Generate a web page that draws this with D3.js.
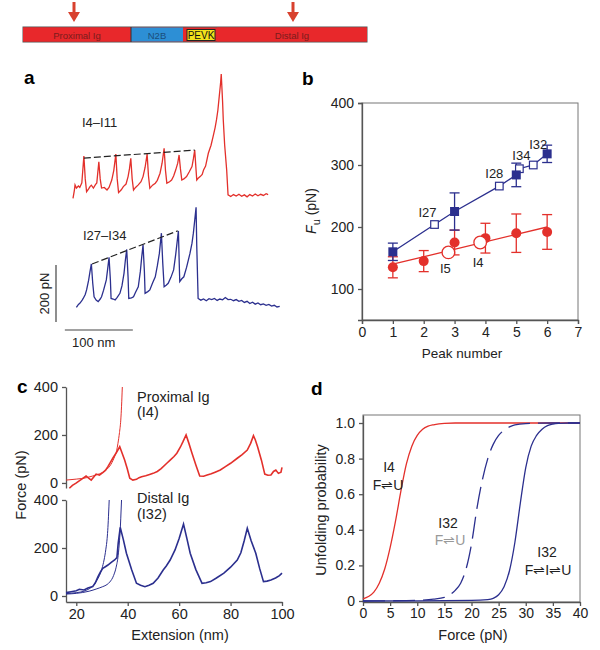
<!DOCTYPE html>
<html>
<head>
<meta charset="utf-8">
<script src="https://cdn.jsdelivr.net/npm/d3@7"></script>
<style>
  body { margin: 0; background: #fff; }
  svg { display: block; font-family: "Liberation Sans", Arial, Helvetica, sans-serif; }
</style>
</head>
<body>
<svg id="fig" width="600" height="650"></svg>
<script>
// ---- titin domain bar ----
const segNames = ["Proximal Ig", "N2B", "PEVK", "Distal Ig"]
const segStart = [0, 108, 164, 194]
const segEnd = [108, 160, 192, 344]
const arrowAt = [51, 270]

// ---- panel a: sawtooth traces (nm, pN) ----
const traceI4 = [[0,-8],[2,20],[3,39],[5,28],[8,35],[10,30],[13,46],[16,140],[18,60],[20,15],[23,25],[25,33],[27,38],[30,28],[33,40],[35,46],[38,120],[40,60],[42,28],[46,30],[50,21],[53,30],[57,56],[60,90],[63,147],[65,60],[67,12],[71,22],[74,33],[78,42],[81,68],[83,95],[85,132],[87,60],[89,21],[92,30],[96,39],[100,50],[103,68],[106,100],[109,147],[111,70],[113,27],[117,38],[121,45],[124,55],[128,80],[131,115],[134,167],[136,90],[138,45],[142,50],[145,56],[148,70],[151,91],[154,115],[156,144],[158,95],[160,56],[163,60],[167,68],[171,85],[175,103],[177,130],[179,161],[181,90],[182,56],[184,62],[187,68],[190,76],[192,91],[195,105],[199,150],[203,178],[206,208],[209,240],[211,267],[213,300],[215,348],[217,395],[218,428],[220,330],[221,267],[223,180],[226,91],[228,4],[232,-2],[236,5],[240,0],[244,6],[248,-1],[252,4],[256,-3],[260,5],[264,0],[268,7],[272,1],[276,6],[280,2],[284,8],[287,5]]
const traceI27 = [[5,-15],[8,-5],[10,-1],[13,8],[15,16],[18,30],[20,46],[23,80],[25,110],[27,137],[29,70],[31,22],[34,10],[37,5],[40,14],[42,22],[45,45],[49,81],[51,120],[53,160],[55,80],[56,16],[59,14],[62,11],[65,20],[69,34],[72,60],[75,104],[77,150],[79,188],[81,90],[82,16],[86,18],[89,22],[92,38],[96,57],[99,110],[101,160],[103,204],[105,110],[106,34],[110,40],[113,46],[117,70],[121,92],[124,130],[127,174],[130,245],[132,140],[134,57],[137,62],[140,69],[144,90],[148,116],[151,170],[155,253],[156,160],[157,75],[160,85],[163,92],[167,125],[172,174],[175,210],[177,245],[179,290],[181,336],[182,200],[184,16],[188,10],[192,14],[196,8],[200,15],[204,12],[208,16],[212,9],[216,14],[220,11],[224,19],[228,12],[232,13],[236,8],[240,12],[244,6],[248,9],[252,2],[256,6],[260,-2],[264,3],[268,-4],[272,0],[276,-6],[280,-3],[284,-8],[288,-5],[292,-11],[296,-8],[300,-14],[304,-12]]
const envI4 = [[16,133],[179,161]]
const envI27 = [[28,137],[154,253]]
const scaleNm = [-12, 88]
const scalePn = [-67, 133]

// ---- panel b: unfolding force vs peak number ----
const peakNum = [1, 2, 3, 4, 5, 6]
const proxFu = [135, 145, 175, 182, 190, 192]
const proxErr = [17, 17, 20, 24, 31, 28]
const proxFitN = [1, 6]
const proxFitFu = [140, 200]
const proxSingleN = [2.8, 3.83]
const proxSingleFu = [159, 175]
const proxSingleName = ["I5", "I4"]
const distPeak = [1, 3, 5, 6]
const distFu = [160, 225, 284, 318]
const distErr = [14, 30, 19, 14]
const distSingleN = [2.35, 4.45, 5.1, 5.55]
const distSingleFu = [204, 266, 294, 300]
const distSingleName = ["I27", "I28", "I34", "I32"]

// ---- panel c: single-domain traces (nm, pN) ----
const traceProx = [[17.3,-22],[18.5,-10],[19.9,-1],[21,8],[22,15],[23.8,29],[24.8,20],[25.8,12],[26.8,25],[27.7,37],[29,33],[30.3,43],[31.3,52],[32.3,68],[33.2,85],[34.2,103],[35.5,125],[36.9,151],[37.8,125],[38.8,96],[39.8,60],[40.8,20],[42,12],[43.4,15],[44.4,22],[45.4,26],[47,30],[48.5,35],[49.9,40],[51.5,48],[53,60],[55.2,82],[56.5,95],[58,110],[59.1,124],[60.5,150],[61.5,172],[62.7,200],[63.8,165],[65,124],[66.5,75],[68,29],[69.5,28],[70.9,33],[72.5,38],[74,45],[76,54],[78,68],[80,82],[82.6,103],[84.5,118],[86.5,137],[87.8,165],[88.9,197],[89.6,180],[90.5,151],[92,95],[93.3,37],[94.5,32],[95.7,33],[96.7,48],[97.6,54],[98.6,40],[99.6,45],[100,65]]
const fitProx = [[16,12],[20,16],[24,22],[26.4,29],[29,38],[31.6,54],[33.5,78],[34.9,110],[35.7,135],[36.2,165],[36.8,210],[37.3,262],[37.6,320],[37.9,400]]
const traceDist = [[16,14],[18,18],[20,22],[21.2,28],[23,25],[24.5,33],[26.4,39],[27.4,55],[28.4,80],[29.4,100],[30.3,115],[31.3,122],[32.3,129],[33.6,140],[34.9,150],[35.8,160],[36.3,220],[37.1,286],[38.3,235],[39.5,178],[41.5,110],[43.4,53],[45,45],[46.7,39],[48.3,45],[49.9,53],[51.8,75],[53.8,108],[55,125],[56.5,150],[58.4,192],[60,240],[61.7,300],[63,240],[64.3,178],[66.5,110],[68.9,53],[70.5,55],[72.2,60],[74.5,75],[77.4,95],[80,120],[82.6,150],[84,180],[85.3,230],[86.5,282],[88,230],[89.8,178],[91.3,115],[92.8,60],[94.2,62],[95.7,67],[97.5,75],[99,85],[100,95]]
const fitDistA = [[16,10],[20,14],[23,20],[25,30],[27,48],[28,65],[29,85],[30,115],[30.8,150],[31.5,195],[32,240],[32.3,285],[32.6,350],[32.8,400]]
const fitDistB = [[16,8],[20,11],[25,20],[28,30],[30.3,39],[32,48],[33,58],[34.5,85],[35.5,120],[36.3,170],[36.8,230],[37.2,300],[37.4,350],[37.6,400]]

// ---- panel d: unfolding probability vs force ----
const forceI4 = [0,1,2,3,4,5,6,7,8,9,10,11,12,13,14,15,17,20,40]
const probI4 = [0.012,0.025,0.05,0.1,0.18,0.3,0.45,0.62,0.77,0.87,0.93,0.965,0.982,0.99,0.995,0.998,1,1,1]
const forceI32two = [0,5,10,13,15,16,17,18,19,20,21,22,23,24,25,26,27,28,30,35,40]
const probI32two = [0,0.001,0.004,0.01,0.02,0.035,0.06,0.1,0.18,0.32,0.52,0.68,0.8,0.88,0.93,0.96,0.978,0.99,0.997,1,1]
const forceI32three = [0,10,20,23,24,25,26,27,28,29,30,31,32,33,34,35,36,38,40]
const probI32three = [0,0.001,0.003,0.008,0.015,0.035,0.08,0.17,0.33,0.55,0.75,0.87,0.93,0.965,0.985,0.994,0.998,1,1]

const RED = "#e3302b"
const BLUE = "#2b2f8e"
const AXIS = "#555"

const svg = d3.select("#fig")

function panelLetter(txt, x, y) {
    svg.append("text").attr("x", x).attr("y", y).text(txt)
        .style("font-size", "19px").style("font-weight", "bold").style("font-family", "Arial, 'Liberation Sans', sans-serif")
}

function styleAxis(g, size) {
    g.selectAll("path").attr("stroke", AXIS).attr("stroke-width", 1.3)
    g.selectAll("line").attr("stroke", AXIS).attr("stroke-width", 1.3)
    g.selectAll("text").style("font-size", size || "14px").attr("fill", "#222")
        .style("font-family", "'Liberation Sans', Arial, sans-serif")
}

// ======== top domain bar ========
var xBar = d3.scaleLinear().domain([0, 344]).range([23, 367])
var barCol = ["#e8282b", "#2d8fd5", "#f2e21c", "#e8282b"]
var barG = svg.append("g")
barG.append("rect").attr("x", xBar(0)).attr("y", 27).attr("width", xBar(344) - xBar(0)).attr("height", 15)
    .attr("fill", barCol[0]).attr("stroke", "#555").attr("stroke-width", 1)
segNames.forEach(function (name, i) {
    var x0 = xBar(segStart[i]), x1 = xBar(segEnd[i])
    var isPevk = name == "PEVK"
    barG.append("rect").attr("x", x0).attr("y", isPevk ? 29.5 : 27.5)
        .attr("width", x1 - x0).attr("height", isPevk ? 11 : 14)
        .attr("fill", barCol[i]).attr("stroke", isPevk ? "#222" : "none").attr("stroke-width", 1)
    barG.append("text").attr("x", (x0 + x1) / 2).attr("y", 38.5).attr("text-anchor", "middle")
        .text(name).style("font-size", isPevk ? "10px" : "9.5px")
        .attr("fill", isPevk ? "#111" : (name == "N2B" ? "#1b4d7a" : "#7a1c1c"))
})
barG.append("line").attr("x1", xBar(segStart[1])).attr("x2", xBar(segStart[1])).attr("y1", 27).attr("y2", 42).attr("stroke", "#333")
arrowAt.forEach(function (a) {
    var x = xBar(a)
    barG.append("line").attr("x1", x).attr("x2", x).attr("y1", 2).attr("y2", 14)
        .attr("stroke", "#d8412e").attr("stroke-width", 3)
    barG.append("path").attr("d", "M" + (x - 6) + ",12 L" + (x + 6) + ",12 L" + x + ",22 Z").attr("fill", "#d8412e")
})

// ======== panel a ========
panelLetter("a", 24, 84)
var xA = d3.scaleLinear().domain([0, 100]).range([73, 141])
var yA4 = d3.scaleLinear().domain([0, 200]).range([196, 139])
var yA27 = d3.scaleLinear().domain([0, 200]).range([303, 246])

svg.append("path").datum(traceI4)
    .attr("d", d3.line().x(d => xA(d[0])).y(d => yA4(d[1])))
    .attr("fill", "none").attr("stroke", RED).attr("stroke-width", 1.3)
svg.append("path").datum(traceI27)
    .attr("d", d3.line().x(d => xA(d[0])).y(d => yA27(d[1])))
    .attr("fill", "none").attr("stroke", BLUE).attr("stroke-width", 1.3)
svg.append("path").datum(envI4)
    .attr("d", d3.line().x(d => xA(d[0])).y(d => yA4(d[1])))
    .attr("stroke", "#222").attr("stroke-width", 1.2).attr("stroke-dasharray", "7,3")
svg.append("path").datum(envI27)
    .attr("d", d3.line().x(d => xA(d[0])).y(d => yA27(d[1])))
    .attr("stroke", "#222").attr("stroke-width", 1.2).attr("stroke-dasharray", "7,3")

svg.append("text").attr("x", 82).attr("y", 127).text("I4–I11").style("font-size", "13px").attr("fill", "#222")
svg.append("text").attr("x", 83).attr("y", 240).text("I27–I34").style("font-size", "13px").attr("fill", "#222")

// scale bars
svg.append("line").attr("x1", xA(-25)).attr("x2", xA(-25))
    .attr("y1", yA27(scalePn[0])).attr("y2", yA27(scalePn[1]))
    .attr("stroke", "#444").attr("stroke-width", 1.2)
svg.append("line").attr("x1", xA(scaleNm[0])).attr("x2", xA(scaleNm[1]))
    .attr("y1", 330).attr("y2", 330).attr("stroke", "#444").attr("stroke-width", 1.2)
svg.append("text").attr("transform", "translate(49," + yA27((scalePn[0] + scalePn[1]) / 2) + ") rotate(-90)")
    .attr("text-anchor", "middle").text("200 pN").style("font-size", "13px").attr("fill", "#222")
svg.append("text").attr("x", 72).attr("y", 347).text("100 nm").style("font-size", "13px").attr("fill", "#222")

// ======== panel b ========
panelLetter("b", 302, 85)
var xB = d3.scaleLinear().domain([0, 7]).range([362, 578])
var yB = d3.scaleLinear().domain([50, 400]).range([320, 103])

svg.append("rect").attr("x", xB(0)).attr("y", yB(400)).attr("width", xB(7) - xB(0)).attr("height", yB(50) - yB(400))
    .attr("fill", "none").attr("stroke", "#777").attr("stroke-width", 1)
var gbx = svg.append("g").attr("transform", "translate(0," + yB(50) + ")")
    .call(d3.axisBottom(xB).ticks(7).tickSize(4).tickPadding(3))
styleAxis(gbx, "14px")
var gby = svg.append("g").attr("transform", "translate(" + xB(0) + ",0)")
    .call(d3.axisLeft(yB).tickValues([100, 200, 300, 400]).tickSize(4).tickPadding(4))
styleAxis(gby, "14px")
svg.append("text").attr("x", 462).attr("y", 358).attr("text-anchor", "middle").text("Peak number")
    .style("font-size", "13.5px").attr("fill", "#222")
var yLab = svg.append("text").attr("transform", "translate(316,211) rotate(-90)").attr("text-anchor", "middle")
    .style("font-size", "14px").attr("fill", "#222")
yLab.append("tspan").text("F").style("font-style", "italic")
yLab.append("tspan").text("u").attr("dy", 4).style("font-size", "11px")
yLab.append("tspan").text(" (pN)").attr("dy", -4)

// red: fit line, error bars, filled circles
svg.append("line").attr("x1", xB(proxFitN[0])).attr("y1", yB(proxFitFu[0]))
    .attr("x2", xB(proxFitN[1])).attr("y2", yB(proxFitFu[1])).attr("stroke", RED).attr("stroke-width", 1.3)

// blue: connecting line through all distal points
var distAll = distPeak.map((n, i) => [n, distFu[i]])
    .concat(distSingleN.map((n, i) => [n, distSingleFu[i]]))
    .sort((a, b) => a[0] - b[0])
svg.append("path").datum(distAll).attr("d", d3.line().x(d => xB(d[0])).y(d => yB(d[1])))
    .attr("fill", "none").attr("stroke", BLUE).attr("stroke-width", 1.3)

function errBars(xs, ys, es, col) {
    xs.forEach(function (n, i) {
        var x = xB(n)
        svg.append("line").attr("x1", x).attr("x2", x).attr("y1", yB(ys[i] - es[i])).attr("y2", yB(ys[i] + es[i]))
            .attr("stroke", col).attr("stroke-width", 1.3)
        ;[ys[i] - es[i], ys[i] + es[i]].forEach(function (v) {
            svg.append("line").attr("x1", x - 5).attr("x2", x + 5).attr("y1", yB(v)).attr("y2", yB(v))
                .attr("stroke", col).attr("stroke-width", 1.3)
        })
    })
}
errBars(peakNum, proxFu, proxErr, RED)
errBars(distPeak, distFu, distErr, BLUE)

svg.selectAll(".proxDot").data(peakNum).enter().append("circle")
    .attr("cx", d => xB(d)).attr("cy", (d, i) => yB(proxFu[i])).attr("r", 5).attr("fill", RED)
svg.selectAll(".proxOpen").data(proxSingleN).enter().append("circle")
    .attr("cx", d => xB(d)).attr("cy", (d, i) => yB(proxSingleFu[i])).attr("r", 6.3)
    .attr("fill", "#fff").attr("stroke", RED).attr("stroke-width", 1.3)
svg.selectAll(".distOpen").data(distSingleN).enter().append("rect")
    .attr("x", d => xB(d) - 3.8).attr("y", (d, i) => yB(distSingleFu[i]) - 3.8).attr("width", 7.6).attr("height", 7.6)
    .attr("fill", "#fff").attr("stroke", BLUE).attr("stroke-width", 1.2)
svg.selectAll(".distSq").data(distPeak).enter().append("rect")
    .attr("x", d => xB(d) - 4.5).attr("y", (d, i) => yB(distFu[i]) - 4.5).attr("width", 9).attr("height", 9)
    .attr("fill", BLUE)

// domain labels, offset from their markers
var proxLabelOff = [[-3, 21], [-2, 24]]
var distLabelOff = [[-7, -8], [-5, -8], [2, -9], [5, -16]]
proxSingleName.forEach(function (name, i) {
    svg.append("text").attr("x", xB(proxSingleN[i]) + proxLabelOff[i][0]).attr("y", yB(proxSingleFu[i]) + proxLabelOff[i][1])
        .attr("text-anchor", "middle").text(name).style("font-size", "13px").attr("fill", "#222")
})
distSingleName.forEach(function (name, i) {
    svg.append("text").attr("x", xB(distSingleN[i]) + distLabelOff[i][0]).attr("y", yB(distSingleFu[i]) + distLabelOff[i][1])
        .attr("text-anchor", "middle").text(name).style("font-size", "13px").attr("fill", "#222")
})

// ======== panel c ========
panelLetter("c", 17, 393)
var xC = d3.scaleLinear().domain([16, 100]).range([66, 282])
var yCt = d3.scaleLinear().domain([-21, 400]).range([488, 387])
var yCb = d3.scaleLinear().domain([-25, 400]).range([602, 500])

var gct = svg.append("g").attr("transform", "translate(" + xC(16) + ",0)")
    .call(d3.axisLeft(yCt).tickValues([0, 200, 400]).tickSize(4).tickPadding(4).tickSizeOuter(0))
styleAxis(gct, "14.5px")
var gcb = svg.append("g").attr("transform", "translate(" + xC(16) + ",0)")
    .call(d3.axisLeft(yCb).tickValues([0, 200, 400]).tickSize(4).tickPadding(4).tickSizeOuter(0))
styleAxis(gcb, "14.5px")
var gcx = svg.append("g").attr("transform", "translate(0," + yCb(-25) + ")")
    .call(d3.axisBottom(xC).tickValues([20, 40, 60, 80, 100]).tickSize(4).tickPadding(3).tickSizeOuter(0))
styleAxis(gcx, "14.5px")

var lineCt = d3.line().x(d => xC(d[0])).y(d => yCt(d[1]))
var lineCb = d3.line().x(d => xC(d[0])).y(d => yCb(d[1]))
svg.append("path").datum(fitProx).attr("d", lineCt.curve(d3.curveMonotoneX))
    .attr("fill", "none").attr("stroke", RED).attr("stroke-width", 1)
svg.append("path").datum(traceProx).attr("d", d3.line().x(d => xC(d[0])).y(d => yCt(d[1])))
    .attr("fill", "none").attr("stroke", RED).attr("stroke-width", 1.6)
svg.append("path").datum(fitDistA).attr("d", lineCb.curve(d3.curveMonotoneX))
    .attr("fill", "none").attr("stroke", BLUE).attr("stroke-width", 1)
svg.append("path").datum(fitDistB).attr("d", lineCb.curve(d3.curveMonotoneX))
    .attr("fill", "none").attr("stroke", BLUE).attr("stroke-width", 1)
svg.append("path").datum(traceDist).attr("d", d3.line().x(d => xC(d[0])).y(d => yCb(d[1])))
    .attr("fill", "none").attr("stroke", BLUE).attr("stroke-width", 1.6)

var cLabels = [["Proximal Ig", 402], ["(I4)", 417], ["Distal Ig", 503], ["(I32)", 519]]
cLabels.forEach(function (l) {
    svg.append("text").attr("x", 137).attr("y", l[1]).text(l[0]).style("font-size", "14.5px").attr("fill", "#222")
})
svg.append("text").attr("transform", "translate(26,485) rotate(-90)").attr("text-anchor", "middle")
    .text("Force (pN)").style("font-size", "14.5px").attr("fill", "#222")
svg.append("text").attr("x", 180).attr("y", 640).attr("text-anchor", "middle")
    .text("Extension (nm)").style("font-size", "14.5px").attr("fill", "#222")

// ======== panel d ========
panelLetter("d", 311, 395)
var xD = d3.scaleLinear().domain([0, 40]).range([363, 580])
var yD = d3.scaleLinear().domain([0, 1.045]).range([601, 415])

svg.append("rect").attr("x", xD(0)).attr("y", yD(1.045)).attr("width", xD(40) - xD(0)).attr("height", yD(0) - yD(1.045) + 1)
    .attr("fill", "none").attr("stroke", "#777").attr("stroke-width", 1)
var gdx = svg.append("g").attr("transform", "translate(0," + (yD(0) + 1) + ")")
    .call(d3.axisBottom(xD).tickValues([0, 5, 10, 15, 20, 25, 30, 35, 40]).tickSize(4).tickPadding(2).tickSizeOuter(0))
styleAxis(gdx, "14px")
var gdy = svg.append("g").attr("transform", "translate(" + xD(0) + ",0)")
    .call(d3.axisLeft(yD).tickValues([0, 0.2, 0.4, 0.6, 0.8, 1.0]).tickFormat(d => d == 0 ? "0" : d3.format(".1f")(d))
        .tickSize(4).tickPadding(4).tickSizeOuter(0))
styleAxis(gdy, "14px")

var lineD = d3.line().x(d => xD(d[0])).y(d => yD(d[1])).curve(d3.curveMonotoneX)
svg.append("path").datum(forceI4.map((f, i) => [f, probI4[i]])).attr("d", lineD)
    .attr("fill", "none").attr("stroke", RED).attr("stroke-width", 1.3)
svg.append("path").datum(forceI32two.map((f, i) => [f, probI32two[i]])).attr("d", lineD)
    .attr("fill", "none").attr("stroke", BLUE).attr("stroke-width", 1.3).attr("stroke-dasharray", "22,8")
svg.append("path").datum(forceI32three.map((f, i) => [f, probI32three[i]])).attr("d", lineD)
    .attr("fill", "none").attr("stroke", BLUE).attr("stroke-width", 1.3)

var dLabels = [["I4", 389, 472, "#222"], ["F⇌U", 388, 490, "#222"], ["I32", 448, 528, "#222"],
    ["F⇌U", 450, 545, "#999"], ["I32", 547, 557, "#222"], ["F⇌I⇌U", 548, 575, "#222"]]
dLabels.forEach(function (l) {
    svg.append("text").attr("x", l[1]).attr("y", l[2]).attr("text-anchor", "middle").text(l[0])
        .style("font-size", "14px").attr("fill", l[3])
})
svg.append("text").attr("transform", "translate(326,510) rotate(-90)").attr("text-anchor", "middle")
    .text("Unfolding probability").style("font-size", "14.5px").attr("fill", "#222")
svg.append("text").attr("x", 473).attr("y", 640).attr("text-anchor", "middle")
    .text("Force (pN)").style("font-size", "14.5px").attr("fill", "#222")
</script>
</body>
</html>
